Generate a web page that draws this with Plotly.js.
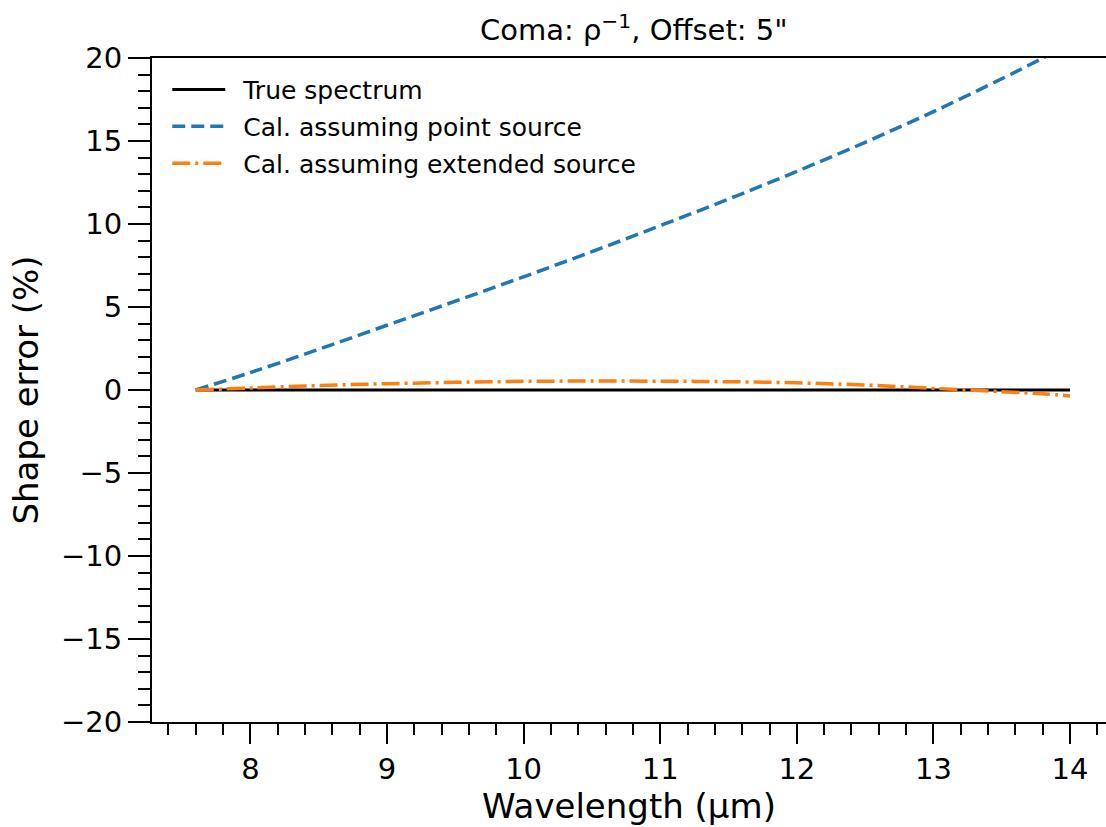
<!DOCTYPE html>
<html>
<head>
<meta charset="utf-8">
<script src="https://cdn.plot.ly/plotly-3.0.1.min.js"></script>
<style>html,body{margin:0;padding:0;background:#fff;overflow:hidden}</style>
</head>
<body>
<div id="chart" style="width:1106px;height:827px"></div>
<script>
// Wavelength grid (µm)
var wavelength = [7.6, 8.0, 8.5, 9.0, 9.5, 10.0, 10.5, 11.0, 11.5, 12.0, 12.5, 13.0, 13.5, 13.8, 14.0];
// Shape error (%) series
var trueSpectrum = [0, 0, 0, 0, 0, 0, 0, 0, 0, 0, 0, 0, 0, 0, 0];
var pointSource = [0, 1.05, 2.45, 3.9, 5.35, 6.82, 8.33, 9.9, 11.5, 13.17, 14.92, 16.77, 18.75, 20.0, 20.9];
var extendedSource = [0, 0.12, 0.27, 0.38, 0.46, 0.52, 0.54, 0.53, 0.5, 0.43, 0.3, 0.1, -0.1, -0.23, -0.36];
var seriesNames = ["True spectrum", "Cal. assuming point source", "Cal. assuming extended source"];
var yTickVals = [-20, -15, -10, -5, 0, 5, 10, 15, 20];
var xTickVals = [8, 9, 10, 11, 12, 13, 14];

var FONT = "DejaVu Sans, Verdana, sans-serif";

var traces = [
  {x: wavelength, y: trueSpectrum, name: seriesNames[0], mode: "lines",
   line: {color: "#000000", width: 3}, legend: "legend"},
  {x: wavelength, y: pointSource, name: seriesNames[1], mode: "lines",
   line: {color: "#1f77b4", width: 3.5, dash: "13px,6px", shape: "spline"}, legend: "legend2"},
  {x: wavelength, y: extendedSource, name: seriesNames[2], mode: "lines",
   line: {color: "#ff7f0e", width: 3.5, dash: "18px,5px,3px,5px", shape: "spline"}, legend: "legend3"}
];

function leg(y) {
  return {x: 0.016, xanchor: "left", y: y, yanchor: "middle",
          bgcolor: "rgba(0,0,0,0)", borderwidth: 0,
          font: {family: FONT, size: 25, color: "#000"}, itemwidth: 66};
}

var layout = {
  width: 1106, height: 827,
  paper_bgcolor: "#fff", plot_bgcolor: "#fff",
  margin: {l: 152, r: 0, t: 58, b: 105},
  font: {family: FONT, color: "#000"},
  title: {text: "Coma: ρ<sup>−1</sup>, Offset: 5\"", font: {family: FONT, size: 29, color: "#000"},
          x: 0.573, xref: "container", xanchor: "center", y: 1 - 30/827, yref: "container", yanchor: "middle"},
  showlegend: true,
  legend: leg(0.952),
  legend2: leg(0.897),
  legend3: leg(0.841),
  xaxis: {
    range: [7.28, 14.263], showgrid: false, zeroline: false,
    showline: true, linecolor: "#000", linewidth: 2, mirror: true,
    tickmode: "array", tickvals: xTickVals,
    ticks: "outside", ticklen: 20, tickwidth: 2, tickcolor: "#000",
    tickfont: {family: FONT, size: 29, color: "#000"},
    minor: {dtick: 0.2, tick0: 0, ticks: "outside", ticklen: 11, tickwidth: 2, tickcolor: "#000", showgrid: false},
    title: {text: "Wavelength (μm)", font: {family: FONT, size: 34, color: "#000"}, standoff: 6}
  },
  yaxis: {
    range: [-20, 20], showgrid: false, zeroline: false,
    showline: true, linecolor: "#000", linewidth: 2, mirror: false,
    tickmode: "array", tickvals: yTickVals,
    ticks: "outside", ticklen: 22, tickwidth: 2, tickcolor: "#000",
    tickfont: {family: FONT, size: 29, color: "#000"},
    minor: {dtick: 1, tick0: 0, ticks: "outside", ticklen: 12, tickwidth: 2, tickcolor: "#000", showgrid: false},
    title: {text: "Shape error (%)", font: {family: FONT, size: 34, color: "#000"}, standoff: 12}
  }
};

Plotly.newPlot("chart", traces, layout, {displayModeBar: false, staticPlot: true}).then(function (gd) {
  // lengthen legend line samples to match the reference
  var paths = gd.querySelectorAll(".legendlines path");
  for (var i = 0; i < paths.length; i++) paths[i].setAttribute("d", "M5,0h53");
});
</script>
</body>
</html>
